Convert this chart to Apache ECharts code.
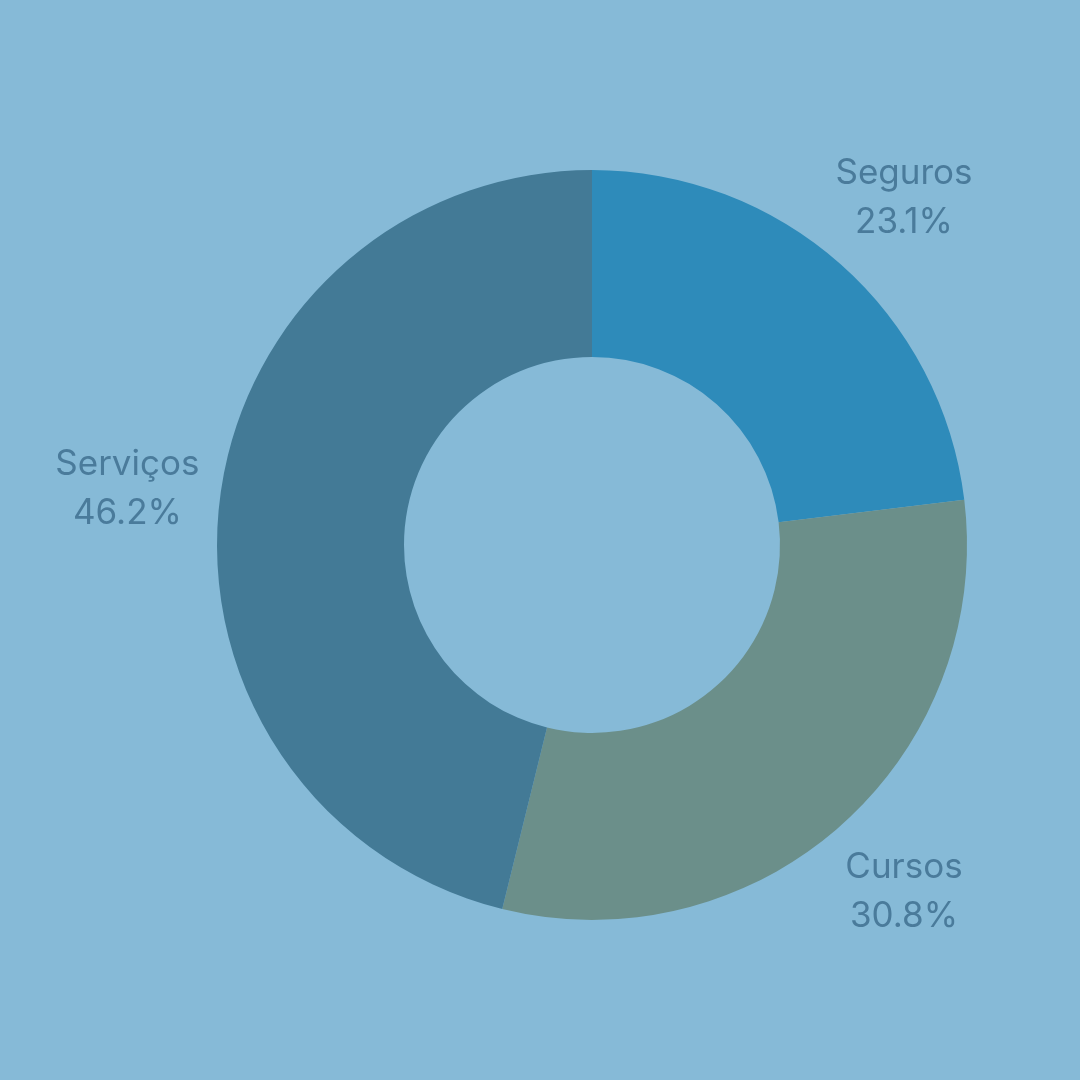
<!DOCTYPE html>
<html>
<head>
<meta charset="utf-8">
<script src="https://cdn.jsdelivr.net/npm/echarts@6/dist/echarts.min.js"></script>
<style>
  html, body { margin: 0; padding: 0; background: #86bad7; }
  #chart { width: 1080px; height: 1080px; }
</style>
</head>
<body>
<div id="chart"></div>
<script>
var categories = ['Seguros', 'Cursos', 'Serviços'];
var values = [3, 4, 6];
var colors = ['#2e8bba', '#6b8f8a', '#437a96'];

var total = 0;
for (var k = 0; k < values.length; k++) total += values[k];

var chart = echarts.init(document.getElementById('chart'));

var data = [];
for (var i = 0; i < categories.length; i++) {
  data.push({ name: categories[i], value: values[i], itemStyle: { color: colors[i] } });
}

chart.setOption({
  backgroundColor: '#86bad7',
  textStyle: { fontFamily: 'Inter' },
  series: [{
    type: 'pie',
    center: [592, 545],
    radius: [188, 375],
    startAngle: 90,
    clockwise: true,
    label: {
      show: true,
      position: 'outside',
      formatter: function (p) {
        return p.name + '\n' + (p.value / total * 100).toFixed(1) + '%';
      },
      overflow: 'none',
      color: '#4a7b9b',
      fontSize: 35,
      lineHeight: 49,
      fontFamily: 'Inter'
    },
    labelLine: { show: false, length: 88, length2: 0 },
    labelLayout: function () {
      return { align: 'center' };
    },
    emphasis: { disabled: true },
    data: data
  }]
});
</script>
</body>
</html>
